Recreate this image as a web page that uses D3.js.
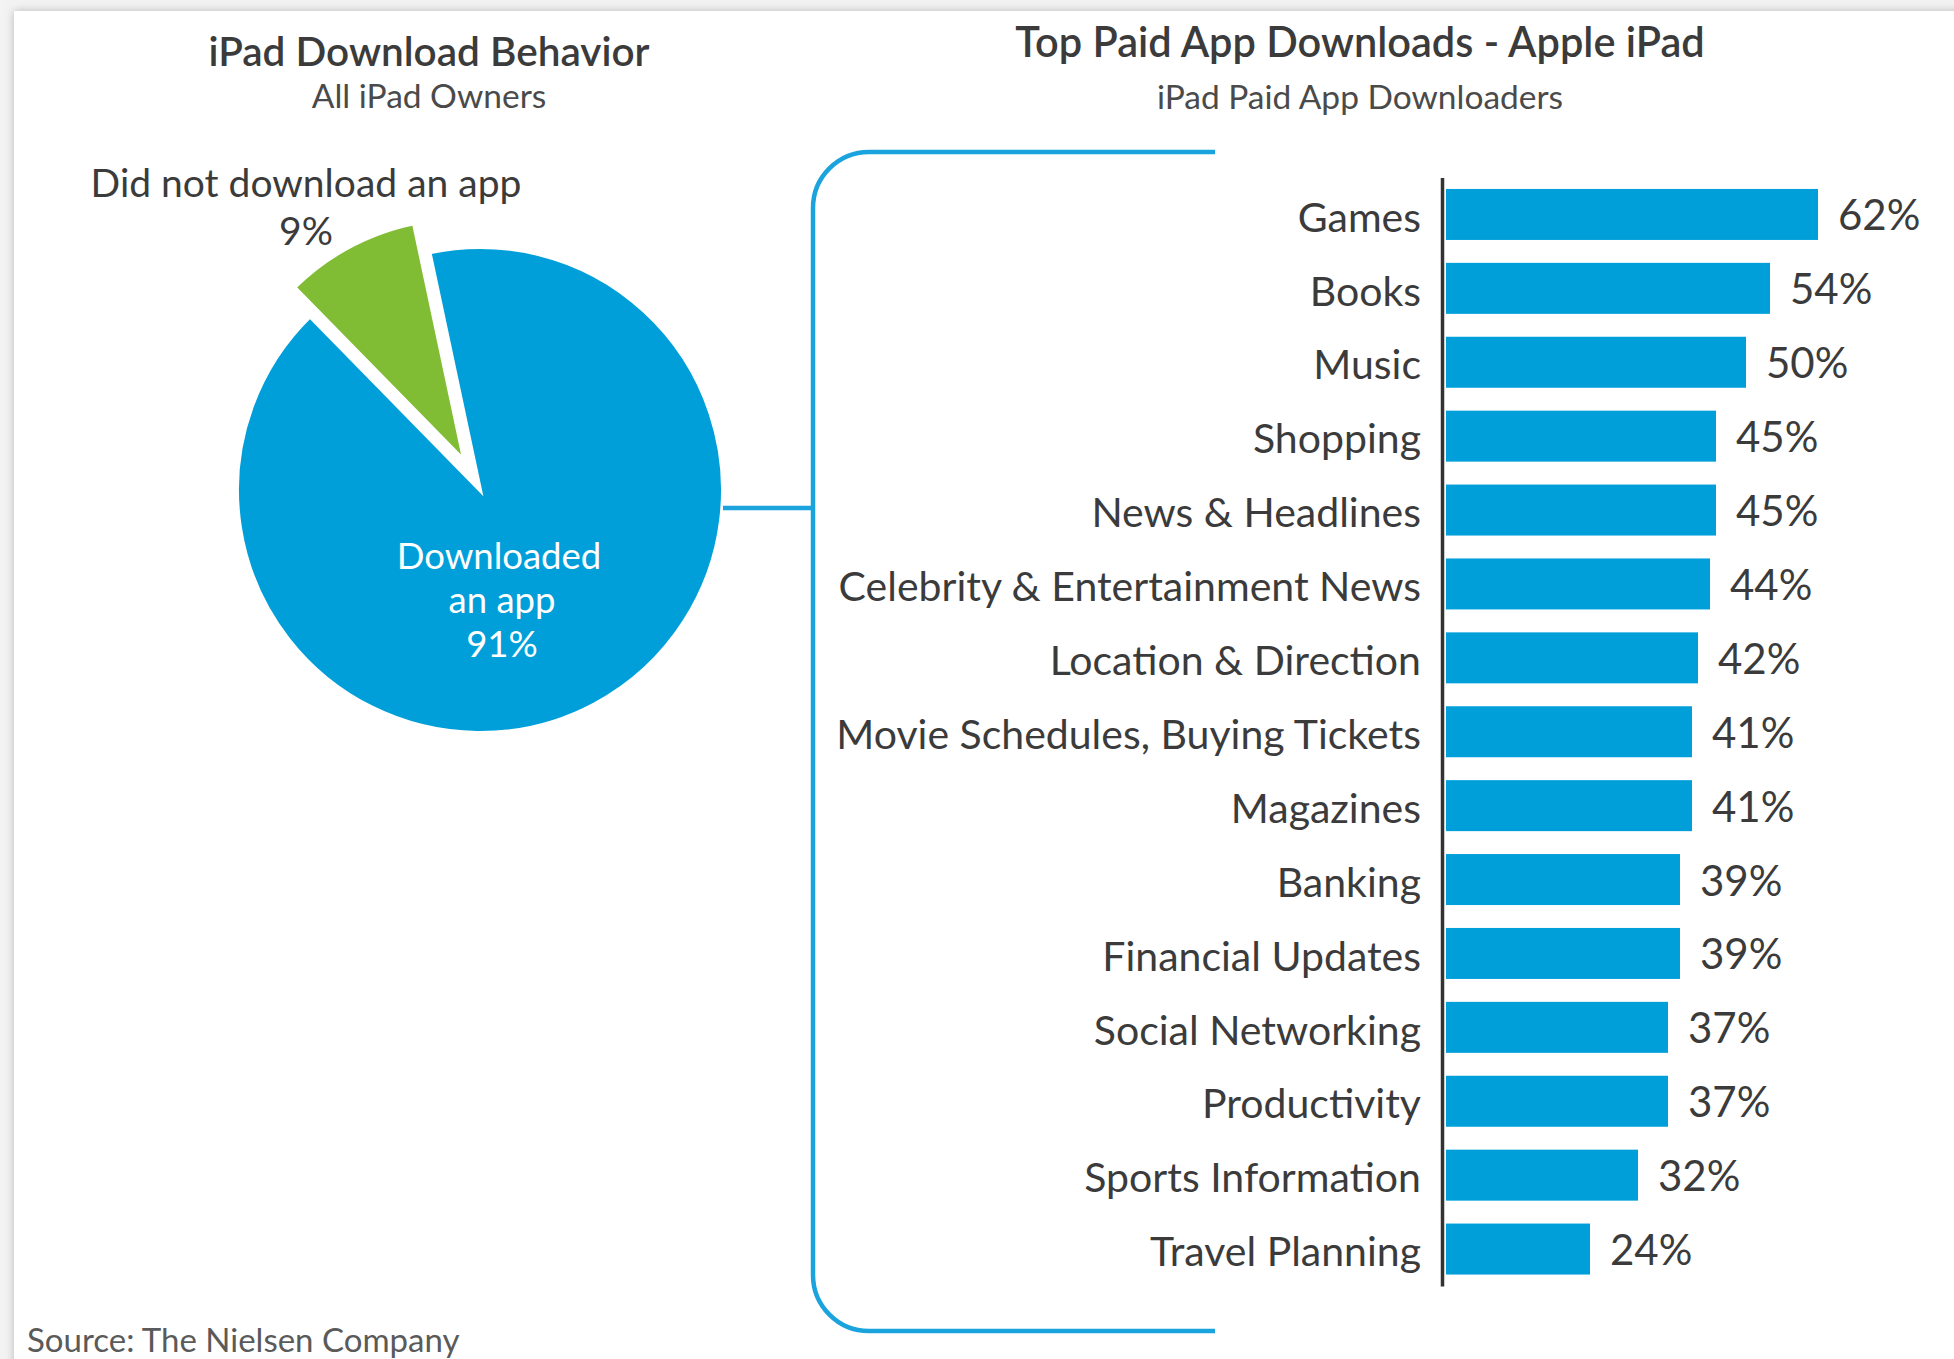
<!DOCTYPE html>
<html><head><meta charset="utf-8">
<script src="https://cdn.jsdelivr.net/npm/d3@7"></script>
<style>body{margin:0;background:#fff}svg{display:block}text{font-family:Lato,"Open Sans",sans-serif}</style>
</head><body>
<script>
// ---- data ----
const pieCategories = ["Downloaded an app", "Did not download an app"];
const pieValues = [91, 9];
const barCategories = ["Games","Books","Music","Shopping","News & Headlines","Celebrity & Entertainment News","Location & Direction","Movie Schedules, Buying Tickets","Magazines","Banking","Financial Updates","Social Networking","Productivity","Sports Information","Travel Planning"];
const barValues = [62,54,50,45,45,44,42,41,41,39,39,37,37,32,24];
const leftTitle = "iPad Download Behavior", leftSubtitle = "All iPad Owners";
const rightTitle = "Top Paid App Downloads - Apple iPad", rightSubtitle = "iPad Paid App Downloaders";
const sourceText = "Source: The Nielsen Company";

(function () {
const W = 1954, H = 1359;
const BLUE = "#009fda", GREEN = "#80bc34", TEXT = "#3b3b3b", BRACKET = "#1aa3dd";

const svg = d3.select("body").append("svg").attr("width", W).attr("height", H);
const defs = svg.append("defs");
const flt = defs.append("filter").attr("id","shadow").attr("x","-5%").attr("y","-5%").attr("width","110%").attr("height","110%");
flt.append("feDropShadow").attr("dx",0).attr("dy",0).attr("stdDeviation",5).attr("flood-color","#888").attr("flood-opacity",0.55);

svg.append("rect").attr("width", W).attr("height", H).attr("fill", "#f3f3f3");
svg.append("rect").attr("x", 14).attr("y", 11).attr("width", W).attr("height", H).attr("fill", "#fff").attr("filter","url(#shadow)");

// ---- titles ----
function txt(s, x, y, size, opts = {}) {
  return svg.append("text").attr("x", x).attr("y", y).attr("font-size", size)
    .attr("text-anchor", opts.anchor || "middle").attr("fill", opts.fill || TEXT)
    .attr("font-weight", opts.weight || 400).text(s);
}
txt(leftTitle, 429, 66, 40.5, {weight: 600});
txt(leftSubtitle, 429, 108, 33.5, {fill: "#4a4a4a"});
txt(rightTitle, 1360, 57, 41.5, {weight: 600});
txt(rightSubtitle, 1360, 109, 33.5, {fill: "#4a4a4a"});
txt(sourceText, 27, 1352, 33, {anchor: "start", fill: "#5a5a5a"});

// ---- pie ----
const cx = 480, cy = 490, R = 243;
const pie = d3.pie().sort(null).startAngle(-12 * Math.PI / 180).endAngle(348 * Math.PI / 180);
const arc = d3.arc().innerRadius(0).outerRadius(R);
const arcs = pie(pieValues);
const pg = svg.append("g").attr("transform", `translate(${cx},${cy})`);
const explode = 33;
pg.selectAll("path").data(arcs).join("path")
  .attr("d", arc)
  .attr("fill", (d, i) => i === 0 ? BLUE : GREEN)
  .attr("stroke", "#fff").attr("stroke-width", 4).attr("stroke-linejoin", "miter")
  .attr("transform", (d, i) => {
    if (i === 0) return null;
    const a = (d.startAngle + d.endAngle) / 2;
    return `translate(${explode * Math.sin(a)},${-explode * Math.cos(a)})`;
  });
const l1 = svg.append("text").attr("text-anchor","middle").attr("font-size", 39).attr("fill", TEXT);
l1.append("tspan").attr("x", 306).attr("y", 197).text(pieCategories[1]);
l1.append("tspan").attr("x", 306).attr("y", 245).text(pieValues[1] + "%");
const l0 = svg.append("text").attr("text-anchor","middle").attr("font-size", 36.5).attr("fill", "#fff");
l0.append("tspan").attr("x", 499).attr("y", 569).text("Downloaded");
l0.append("tspan").attr("x", 502).attr("y", 613).text("an app");
l0.append("tspan").attr("x", 502).attr("y", 657).text(pieValues[0] + "%");

// ---- bracket ----
const bx = 813, bTop = 152, bBot = 1331, ex = 1215, r = 56;
svg.append("path")
  .attr("d", `M${ex},${bTop} H${bx + r} A${r},${r} 0 0 0 ${bx},${bTop + r} V${bBot - r} A${r},${r} 0 0 0 ${bx + r},${bBot} H${ex}`)
  .attr("fill", "none").attr("stroke", BRACKET).attr("stroke-width", 4.5);
svg.append("line").attr("x1", cx + R).attr("x2", bx).attr("y1", 508).attr("y2", 508)
  .attr("stroke", BRACKET).attr("stroke-width", 4.5);

// ---- bars ----
const x = d3.scaleLinear().domain([0, 100]).range([1446, 2046]);
const y = d3.scaleBand().domain(barCategories).range([177.5, 1286]).paddingInner(0.31).paddingOuter(0.155);
const bg = svg.append("g");
bg.selectAll("rect").data(barCategories).join("rect")
  .attr("x", x(0)).attr("y", d => y(d))
  .attr("width", (d, i) => x(barValues[i]) - x(0))
  .attr("height", y.bandwidth()).attr("fill", BLUE);
bg.selectAll("text.val").data(barCategories).join("text").attr("class", "val")
  .attr("x", (d, i) => x(barValues[i]) + 20)
  .attr("y", d => y(d) + y.bandwidth() / 2).attr("dy", "0.38em")
  .attr("font-size", 42).attr("fill", TEXT)
  .text((d, i) => barValues[i] + "%");

const axis = svg.append("g").attr("transform", `translate(1442,0)`)
  .call(d3.axisLeft(y).tickSize(0).tickPadding(21));
axis.select(".domain").attr("stroke", "#333").attr("stroke-width", 3.5);
axis.selectAll(".tick text").attr("font-size", 41).attr("fill", TEXT)
  .attr("font-family", "Lato, 'Open Sans', sans-serif").attr("dy", "0.42em");
})();
</script>
</body></html>
